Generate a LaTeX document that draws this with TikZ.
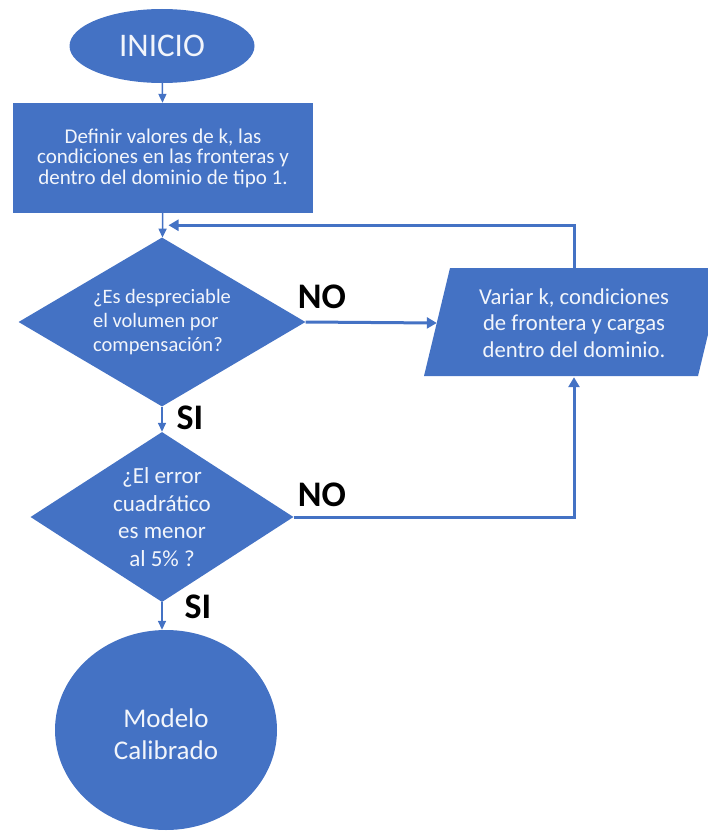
\documentclass[tikz,border=0pt]{standalone}
\usepackage{fontspec}
\setmainfont{Carlito}
\usetikzlibrary{shapes.geometric,arrows.meta,calc}
\definecolor{fcblue}{HTML}{4472C4}
\definecolor{txtw}{HTML}{F2F5FB}
\begin{document}
\begin{tikzpicture}[x=1pt,y=-1pt,
  shapefill/.style={fill=fcblue, draw=none, text=txtw, inner sep=0pt},
  dtext/.style={text=txtw, inner sep=0pt},
  arr/.style={draw=fcblue, line width=1.6pt, -{Triangle[length=9pt,width=8pt]}},
  looparr/.style={draw=fcblue, line width=3pt, -{Triangle[length=10pt,width=11pt]}},
  lbl/.style={font=\bfseries\fontsize{36}{36}\selectfont, text=black, inner sep=0pt}]
\clip (0,0) rectangle (708,832);
% nodes
\node[ellipse, shapefill, minimum width=185, minimum height=74,
      font=\fontsize{33}{36}\selectfont] (ini) at (162,46) {INICIO};
\node[rectangle, shapefill, minimum width=300, minimum height=110, align=center,
      font=\fontsize{21}{20.5}\selectfont] (def) at (163,158)
      {Definir valores de k, las\\condiciones en las fronteras y\\dentro del dominio de tipo 1.};
\node[diamond, shapefill, minimum width=287, minimum height=169,
      label={[dtext, align=left, font=\fontsize{20.5}{24}\selectfont]center:{¿Es despreciable\\el volumen por\\compensación?}}]
      (d1) at (162,322) {};
\node[diamond, shapefill, minimum width=263, minimum height=170,
      label={[dtext, align=center, font=\fontsize{23}{27.5}\selectfont]center:{¿El error\\cuadrático\\es menor\\al 5\% ?}}]
      (d2) at (162,517) {};
\node[ellipse, shapefill, minimum width=222, minimum height=200] (cal) at (166,730) {};
\node[dtext, align=center, font=\fontsize{27}{32}\selectfont] (caltext) at (166,734) {Modelo\\Calibrado};
\fill[fcblue] (424,376) -- (450,268) -- (724,268) -- (698,376) -- cycle;
\node[rectangle, text=txtw, inner sep=0pt, minimum width=274, minimum height=108, align=center,
      font=\fontsize{22.7}{26.5}\selectfont] (var) at (574,323)
      {Variar k, condiciones\\de frontera y cargas\\dentro del dominio.};
% labels
\node[lbl] (no1) at (322,297) {NO};
\node[lbl] (no2) at (322,495) {NO};
\node[lbl] (si1) at (190,418) {SI};
\node[lbl] (si2) at (198,607) {SI};
% connectors
\coordinate (j) at ($(def.south)!0.5!(d1.north)$);
\draw[arr] (ini) -- (def);
\draw[arr] (def) -- (d1);
\draw[arr] (d1) -- (d2);
\draw[arr] (d2.south) -- (d2.south |- cal.north);
\draw[looparr] (var.north) |- ([xshift=6pt]j);
\draw[looparr] (d1.east) -- (var.west);
\draw[looparr] (d2.east) -| (var.south);
\end{tikzpicture}
\end{document}
